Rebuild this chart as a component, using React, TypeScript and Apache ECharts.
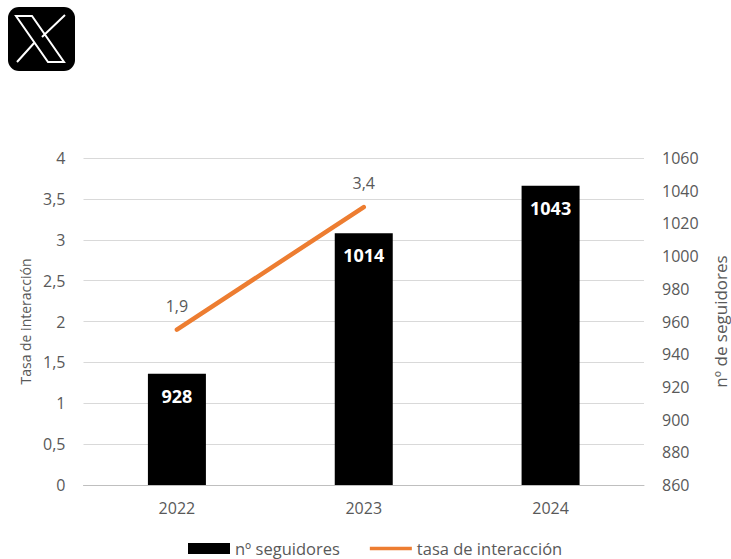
import React, { useEffect, useRef } from "react";
import * as echarts from "echarts";

const categories = ["2022", "2023", "2024"];
const followers = [928, 1014, 1043];
const interaction: (number | null)[] = [1.9, 3.4, null];
const leftTicks = 0.5;
const rightTicks = 20;

const logoPath = "M16 16 L32 16 L64 62 L48 62 Z M65 15 L42 37 M35 42 L17 62";
echarts.graphic.registerShape("xlogo", echarts.graphic.extendPath(logoPath, {}) as any);

const fontFamily = "'Open Sans', 'Noto Sans', sans-serif";
const textColor = "#595959";
const thinBar = "path://M0 0H0.1V0.1H0Z M0 38H420V72H0Z M419.9 109.9H420V110H419.9Z";

export default function App() {
  const ref = useRef<HTMLDivElement>(null);
  useEffect(() => {
    const chart = echarts.init(ref.current!, null, { renderer: "svg" });
    chart.setOption({
      animation: false,
      backgroundColor: "#ffffff",
      textStyle: { fontFamily },
      legend: {
        top: 535, left: 183, itemGap: 30, itemWidth: 42, itemHeight: 11, padding: 5,
        textStyle: { color: textColor, fontSize: 16.5, fontFamily },
        data: [{ name: "nº seguidores", icon: "rect" }, { name: "tasa de interacción", icon: thinBar, itemStyle: { color: "#ed7d31" } }],
      },
      grid: { left: 83.5, right: 87, top: 158, bottom: 74, outerBoundsMode: "none" },
      xAxis: {
        type: "category", data: categories,
        axisLine: { lineStyle: { color: "#bfbfbf" } }, axisTick: { show: false },
        axisLabel: { color: textColor, fontSize: 16, margin: 15 },
      },
      yAxis: [
        {
          type: "value", min: 0, max: 4, interval: leftTicks,
          name: "Tasa de interacción", nameLocation: "middle", nameGap: 51, nameRotate: 90,
          nameTextStyle: { color: textColor, fontSize: 14 },
          axisLine: { show: false }, axisTick: { show: false },
          axisLabel: { color: textColor, fontSize: 16, margin: 18, formatter: (v: number) => String(v).replace(".", ",") },
          splitLine: { lineStyle: { color: "#d9d9d9" } },
        },
        {
          type: "value", min: 860, max: 1060, interval: rightTicks, position: "right",
          name: "nº de seguidores", nameLocation: "middle", nameGap: 68, nameRotate: 90,
          nameTextStyle: { color: textColor, fontSize: 17 },
          axisLine: { show: false }, axisTick: { show: false },
          axisLabel: { color: textColor, fontSize: 16, margin: 18, formatter: (v: number) => String(v) },
          splitLine: { show: false },
        },
      ],
      series: [
        {
          name: "nº seguidores", type: "bar", yAxisIndex: 1, data: followers, barWidth: 58,
          itemStyle: { color: "#000000" },
          label: { show: true, position: "insideTop", distance: 13, color: "#ffffff", fontSize: 18, fontWeight: "bold" },
        },
        {
          name: "tasa de interacción", type: "line", yAxisIndex: 0, data: interaction, showSymbol: true, symbol: "circle", symbolSize: 0.1,
          lineStyle: { color: "#ed7d31", width: 4.5, cap: "round" }, itemStyle: { color: "#ed7d31" },
          label: { show: true, position: "top", distance: 16, color: textColor, fontSize: 16, formatter: (p: any) => String(p.value).replace(".", ",") },
        },
      ],
      graphic: [
        { type: "rect", shape: { x: 8, y: 7, width: 67, height: 64, r: 11 }, style: { fill: "#000000" } },
        { type: "xlogo", x: 0, y: 0, style: { fill: "none", stroke: "#ffffff", lineWidth: 2 } },
      ],
    });
    return () => chart.dispose();
  }, []);
  return <div ref={ref} style={{ width: 731, height: 559, position: "absolute", left: 0, top: 0 }} />;
}
